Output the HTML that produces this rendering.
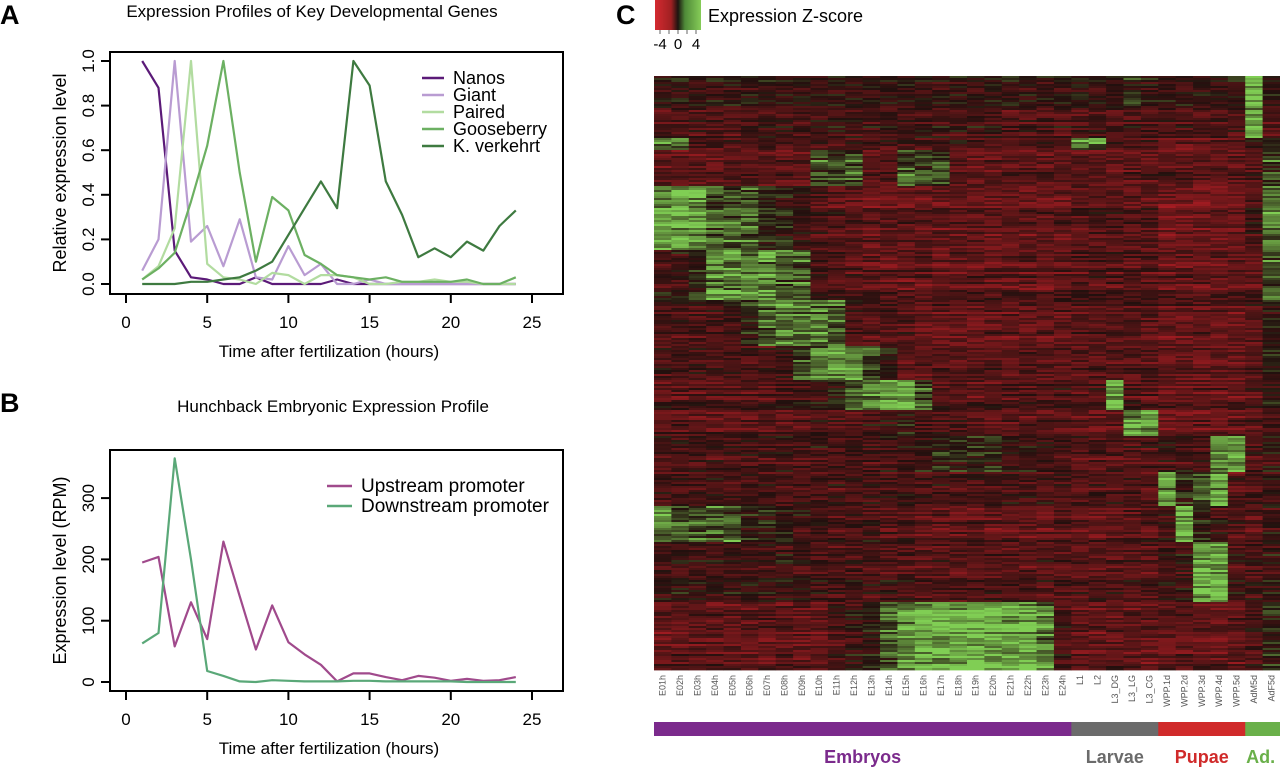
<!DOCTYPE html>
<html><head><meta charset="utf-8">
<style>
html,body{margin:0;padding:0;background:#fff;}
svg{display:block;font-family:"Liberation Sans",Arial,sans-serif;}
</style></head>
<body>
<svg id="root" width="1280" height="767" viewBox="0 0 1280 767" xmlns="http://www.w3.org/2000/svg">
<text x="0" y="24" font-size="27" font-weight="bold">A</text>
<text x="312" y="17" font-size="17" text-anchor="middle">Expression Profiles of Key Developmental Genes</text>
<text x="0" y="412" font-size="27" font-weight="bold">B</text>
<text x="333" y="412" font-size="17" text-anchor="middle">Hunchback Embryonic Expression Profile</text>
<text x="616" y="24" font-size="27" font-weight="bold">C</text>
<g id="ga"></g>
<g id="gb"></g>
<g id="gc"></g>
</svg>
<script>
const hours = [1,2,3,4,5,6,7,8,9,10,11,12,13,14,15,16,17,18,19,20,21,22,23,24];
const nanos = [1.0,.88,.15,.03,.02,0,0,.03,0,0,0,0,.02,0,0,0,0,0,0,0,0,0,0,0];
const giant = [.06,.2,1.0,.19,.26,.08,.29,.03,.02,.17,.04,.09,0,0,.02,0,0,0,0,0,0,0,0,0];
const paired = [.02,.08,.25,1.0,.09,.03,.02,0,.05,.04,0,.04,.04,.03,0,0,.01,.01,.02,.01,.01,0,0,0];
const gooseberry = [.02,.07,.14,.37,.62,1.0,.5,.1,.39,.33,.13,.09,.04,.03,.02,.03,.01,.01,.01,.01,.02,0,0,.03];
const kverkehrt = [0,0,0,.01,.01,.02,.03,.06,.1,.22,.34,.46,.34,1.0,.89,.46,.31,.12,.16,.12,.19,.15,.26,.33];
const xTicks = [0,5,10,15,20,25];
const aYTicks = ["0.0","0.2","0.4","0.6","0.8","1.0"];
const upstream = [195,204,58,130,70,229,140,53,125,65,45,28,1,14,14,8,3,10,7,2,5,2,3,8];
const downstream = [63,80,365,200,18,10,1,0,3,2,1,1,1,2,2,1,1,1,1,1,0,0,0,0];
const bYTicks = [0,100,200,300];
const colLabels = ["E01h","E02h","E03h","E04h","E05h","E06h","E07h","E08h","E09h","E10h","E11h","E12h","E13h","E14h","E15h","E16h","E17h","E18h","E19h","E20h","E21h","E22h","E23h","E24h","L1","L2","L3_DG","L3_LG","L3_CG","WPP.1d","WPP.2d","WPP.3d","WPP.4d","WPP.5d","AdM5d","AdF5d"];
const clusterRows = [17,14,6,18,32,25,23,17,15,13,18,17,18,30,34];
const clusterProfiles = [
"444444444444444444444444 44454 44444 84",
"333334444444444444443333 33333 33333 83",
"773333333333333333333333 77333 11111 45",
"222222222666226662222222 22222 22222 36",
"888666554322111111111111 22222 00000 37",
"445777766322111111111111 22222 11111 26",
"333345677763222111111111 22222 11111 25",
"333333346788652222222222 22222 11111 25",
"222222233456788632222222 22822 11111 24",
"222222222333445444322222 22288 11111 24",
"333333333333333455554433 22222 33378 24",
"333333333333333333333333 22222 85682 24",
"766665554433322111111112 11222 38542 24",
"444444444333333222222222 22222 44883 34",
"111111111134567888888873 11111 11111 35"];
const groups = ["Embryos","Larvae","Pupae","Ad."];
const groupCounts = [24,5,5,2];

const NS="http://www.w3.org/2000/svg";
function mk(tag,attrs,parent){const e=document.createElementNS(NS,tag);for(const k in attrs)e.setAttribute(k,attrs[k]);parent.appendChild(e);return e;}

function linePanel(g, box, xs, ys, yLabels, yVals, series, yTitle, legend){
  const rect=mk('rect',{x:box.l,y:box.t,width:box.r-box.l,height:box.b-box.t,fill:'none',stroke:'#000','stroke-width':2},g);
  
  
  xTicks.forEach(v=>{const x=xs(v);
    const t=mk('line',{x1:x,x2:x,y1:box.b,y2:box.b+9,stroke:'#000','stroke-width':2},g);
    
    
    const l=mk('text',{x:x,y:box.b+34,'font-size':17,'text-anchor':'middle'},g);l.textContent=v;
    
    
  });
  const xl=mk('text',{x:(xs(0)+xs(25))/2,y:box.b+63,'font-size':17,'text-anchor':'middle'},g);
  xl.textContent='Time after fertilization (hours)';
  
  
  yVals.forEach((v,i)=>{const y=ys(v);
    const t=mk('line',{x1:box.l-9,x2:box.l,y1:y,y2:y,stroke:'#000','stroke-width':2},g);
    
    
    const l=mk('text',{x:0,y:0,'font-size':17,'text-anchor':'middle',transform:`translate(${box.l-16},${y}) rotate(-90)`},g);l.textContent=yLabels[i];
    
    
  });
  const yt=mk('text',{x:0,y:0,'font-size':18,'text-anchor':'middle',transform:`translate(${box.l-44},${(box.t+box.b)/2}) rotate(-90)`},g);
  yt.textContent=yTitle;
  
  
  series.forEach(s=>{
    const pts=hours.map((h,i)=>xs(h).toFixed(1)+','+ys(s.vals[i]).toFixed(1)).join(' ');
    const p=mk('polyline',{points:pts,fill:'none',stroke:s.color,'stroke-width':2.2,'stroke-linejoin':'round'},g);
    
    
  });
  series.forEach((s,i)=>{const y=legend.y0+i*legend.dy;
    const l=mk('line',{x1:legend.x1,x2:legend.x2,y1:y,y2:y,stroke:s.color,'stroke-width':2.5},g);
    
    
    const t=mk('text',{x:legend.tx,y:y+6,'font-size':legend.fs},g);t.textContent=s.name;
    
    
  });
}
const xsc=v=>126+v*16.24;
linePanel(document.getElementById('ga'),{l:110,r:563,t:52,b:294},xsc,v=>284-v*223,aYTicks,[0,.2,.4,.6,.8,1],
 [{name:'Nanos',vals:nanos,color:'#5b1a78'},{name:'Giant',vals:giant,color:'#b99cd2'},{name:'Paired',vals:paired,color:'#b2dca0'},{name:'Gooseberry',vals:gooseberry,color:'#6cb062'},{name:'K. verkehrt',vals:kverkehrt,color:'#3e7a40'}],
 'Relative expression level',{x1:422,x2:444,tx:453,y0:78,dy:17,fs:18});
linePanel(document.getElementById('gb'),{l:110,r:563,t:450,b:691},xsc,v=>682-v*0.613,bYTicks.map(String),bYTicks,
 [{name:'Upstream promoter',vals:upstream,color:'#a04a8c'},{name:'Downstream promoter',vals:downstream,color:'#5aa878'}],
 'Expression level (RPM)',{x1:327,x2:352,tx:361,y0:486,dy:20,fs:19});

// Heatmap
const gc=document.getElementById('gc');
const HX=654,HW=626,HY=76,HH=594,NC=colLabels.length;
const totalRows=clusterRows.reduce((a,b)=>a+b,0);
const cw=HW/NC, rh=HH/totalRows;
function hsh(a,b){let h=(a*374761393+b*668265263)|0;h=(h^(h>>>13))*1274126177|0;h^=h>>>16;return ((h>>>0)%10000)/10000;}
function col(z){z=Math.max(-4,Math.min(4,z));const base=[34,16,14];const t=Math.abs(z)/4;
  const tgt=z<0?[165,28,34]:[128,206,84];
  return 'rgb('+base.map((b,i)=>Math.round(b+(tgt[i]-b)*t)).join(',')+')';}
let row=0;
clusterProfiles.forEach((p,ci)=>{
  const prof=p.replace(/[^0-8]/g,'').split('').map(c=>+c-4);
  for(let r=0;r<clusterRows[ci];r++,row++){
    const ro=(hsh(row,999)-0.5)*1.8;
    for(let c=0;c<NC;c++){
      const pv=prof[c];
      let z=(pv>0?pv*0.85:pv*0.4)-0.7+ro+(hsh(row,c)-0.5)*2.2;
      if(pv>=2 && hsh(row+7,c+3)>0.6) z+=1.2;
      const e=mk('rect',{x:(HX+c*cw).toFixed(2),y:(HY+row*rh).toFixed(2),width:(cw+0.4).toFixed(2),height:(rh+0.4).toFixed(2),fill:col(z)},gc);
      
      
    }
  }
});
colLabels.forEach((lab,c)=>{
  const t=mk('text',{x:0,y:0,'font-size':9,fill:'#555','text-anchor':'end',transform:`translate(${(HX+(c+0.5)*cw+3).toFixed(1)},675) rotate(-90)`},gc);
  t.textContent=lab;
  
  
});
const gcolors=['#7b2a8c','#6b6b6b','#d02a2a','#6ab04a'];
let start=0;
groups.forEach((g,i)=>{
  const x=HX+start*cw,w=groupCounts[i]*cw;
  const r=mk('rect',{x:x,y:722,width:w+0.5,height:14,fill:gcolors[i]},gc);
  
  
  const t=mk('text',{x:x+w/2+(i===3?-2:0),y:763,'font-size':18,'font-weight':'bold',fill:gcolors[i],'text-anchor':'middle'},gc);
  t.textContent=g;
  
  
  start+=groupCounts[i];
});
// colour key
const defs=mk('defs',{},gc);
const lg=mk('linearGradient',{id:'zg',x1:0,x2:1,y1:0,y2:0},defs);
mk('stop',{offset:'0','stop-color':'#d42a30'},lg);
mk('stop',{offset:'0.35','stop-color':'#a02022'},lg);
mk('stop',{offset:'0.5','stop-color':'#1c1410'},lg);
mk('stop',{offset:'0.65','stop-color':'#4f8a38'},lg);
mk('stop',{offset:'1','stop-color':'#86cc58'},lg);
const kb=mk('rect',{x:655,y:0,width:46,height:30,fill:'url(#zg)'},gc);


[-4,-2,0,2,4].forEach(v=>{const x=660+(v+4)*4.5;
  const t=mk('line',{x1:x,x2:x,y1:30,y2:34,stroke:'#666','stroke-width':1},gc);
  
  });
[-4,0,4].forEach(v=>{const t=mk('text',{x:660+(v+4)*4.5,y:49,'font-size':15,'text-anchor':'middle'},gc);t.textContent=v;
  
  });
const kt=mk('text',{x:708,y:22,'font-size':18},gc);kt.textContent='Expression Z-score';


</script>
</body></html>
